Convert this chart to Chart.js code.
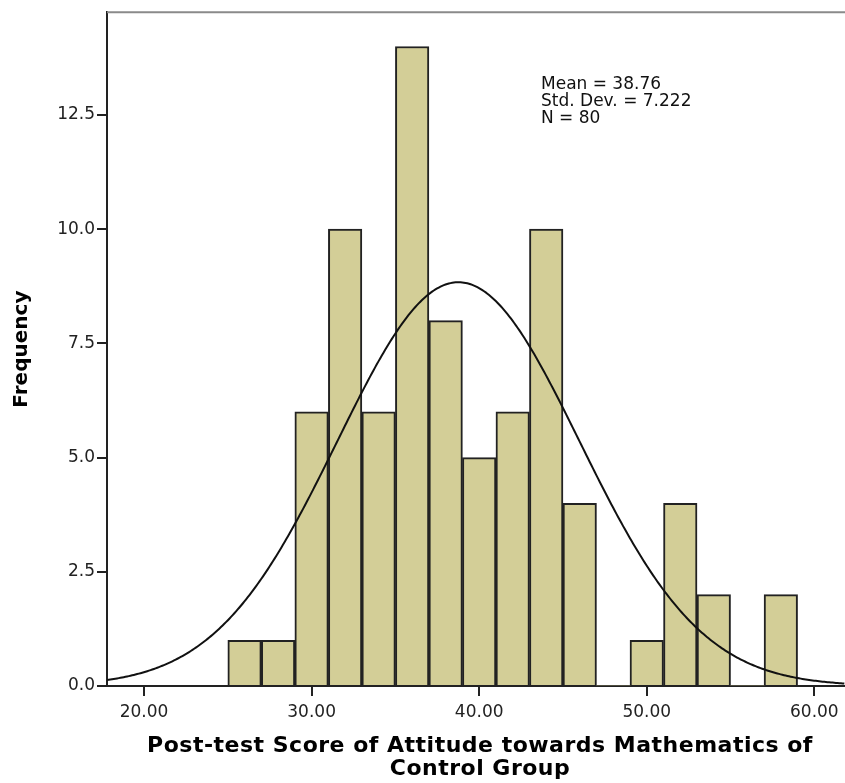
<!DOCTYPE html>
<html>
<head>
<meta charset="utf-8">
<script src="https://cdn.jsdelivr.net/npm/chart.js@4/dist/chart.umd.min.js"></script>
<style>
  html, body { margin: 0; padding: 0; background: #fff; }
  #wrap { width: 845px; height: 783px; }
</style>
</head>
<body>
<div id="wrap"><canvas id="hist" width="845" height="783"></canvas></div>
<script>
// Histogram bins (centre of each 2-point interval) and their frequencies
const binCenters = [26, 28, 30, 32, 34, 36, 38, 40, 42, 44, 46, 48, 50, 52, 54, 56, 58];
const frequencies = [1, 1, 6, 10, 6, 14, 8, 5, 6, 10, 4, 0, 1, 4, 2, 0, 2];
const binWidth = 2;

// Summary statistics shown in the corner
const meanValue = 38.76;
const stdDev = 7.222;
const sampleSize = 80;

// Axis ticks
const xTickValues = [20, 30, 40, 50, 60];
const yTickValues = [0, 2.5, 5, 7.5, 10, 12.5];

const xMin = 17.79, xMax = 61.83;
const yMax = 14.75;

// Fitted normal curve, scaled to frequency units (N * bin width * density)
const curvePoints = [];
for (let x = xMin; x <= xMax + 1e-9; x += 0.1) {
  const z = (x - meanValue) / stdDev;
  const dens = Math.exp(-0.5 * z * z) / (stdDev * Math.sqrt(2 * Math.PI));
  curvePoints.push({ x: x, y: sampleSize * binWidth * dens });
}

const barPoints = binCenters.map((c, i) => ({ x: c, y: frequencies[i] }));

const tickFont = { family: 'DejaVu Sans', size: 17 };

const decorations = {
  id: 'decorations',
  afterDraw(chart) {
    const ctx = chart.ctx;
    const a = chart.chartArea;
    ctx.save();
    // top frame line
    ctx.strokeStyle = '#8a8a8a';
    ctx.lineWidth = 2;
    ctx.beginPath();
    ctx.moveTo(a.left, a.top);
    ctx.lineTo(chart.width, a.top);
    ctx.stroke();

    // statistics box
    ctx.fillStyle = '#111';
    ctx.font = '17px "DejaVu Sans"';
    ctx.textAlign = 'left';
    ctx.textBaseline = 'top';
    const lines = ['Mean = ' + meanValue.toFixed(2), 'Std. Dev. = ' + stdDev.toFixed(3), 'N = ' + sampleSize];
    lines.forEach((t, i) => ctx.fillText(t, 541, 76 + i * 17));

    // axis titles
    ctx.fillStyle = '#000';
    ctx.textAlign = 'center';
    ctx.textBaseline = 'middle';
    ctx.font = 'bold 22px "DejaVu Sans"';
    ctx.letterSpacing = '0.5px';
    const cx = (a.left + a.right) / 2 + 4;
    ctx.fillText('Post-test Score of Attitude towards Mathematics of', cx, 746);
    ctx.fillText('Control Group', cx, 769);

    ctx.letterSpacing = '0px';
    ctx.font = 'bold 20px "DejaVu Sans"';
    ctx.translate(22, (a.top + a.bottom) / 2);
    ctx.rotate(-Math.PI / 2);
    ctx.fillText('Frequency', 0, 0);
    ctx.restore();
  }
};

new Chart(document.getElementById('hist'), {
  type: 'bar',
  data: {
    datasets: [
      {
        type: 'line',
        data: curvePoints,
        borderColor: '#111',
        borderWidth: 2,
        pointRadius: 0,
        fill: false,
        tension: 0,
        order: 0
      },
      {
        type: 'bar',
        data: barPoints,
        backgroundColor: '#d3ce97',
        borderColor: '#222',
        borderWidth: ctx => (ctx.raw && ctx.raw.y > 0 ? 2 : 0),
        barPercentage: 1,
        categoryPercentage: 1,
        order: 1
      }
    ]
  },
  options: {
    responsive: false,
    animation: false,
    layout: { padding: { top: 9, right: 0, left: 0, bottom: 0 } },
    plugins: { legend: { display: false }, tooltip: { enabled: false } },
    scales: {
      x: {
        type: 'linear',
        min: xMin,
        max: xMax,
        offset: false,
        afterBuildTicks: s => { s.ticks = xTickValues.map(v => ({ value: v })); },
        afterFit: s => { s.height = 97; },
        ticks: { callback: v => Number(v).toFixed(2), font: tickFont, color: '#222', padding: 6, maxRotation: 0 },
        grid: { offset: false, drawOnChartArea: false, drawTicks: true, tickLength: 10, color: '#222', lineWidth: 2 },
        border: { display: true, color: '#222', width: 2 }
      },
      y: {
        type: 'linear',
        min: 0,
        max: yMax,
        afterBuildTicks: s => { s.ticks = yTickValues.map(v => ({ value: v })); },
        afterFit: s => { s.width = 107; },
        ticks: { callback: v => Number(v).toFixed(1), font: tickFont, color: '#222', padding: 2 },
        grid: { offset: false, drawOnChartArea: false, drawTicks: true, tickLength: 10, color: '#222', lineWidth: 2 },
        border: { display: true, color: '#222', width: 2 }
      }
    }
  },
  plugins: [decorations]
});
</script>
</body>
</html>
